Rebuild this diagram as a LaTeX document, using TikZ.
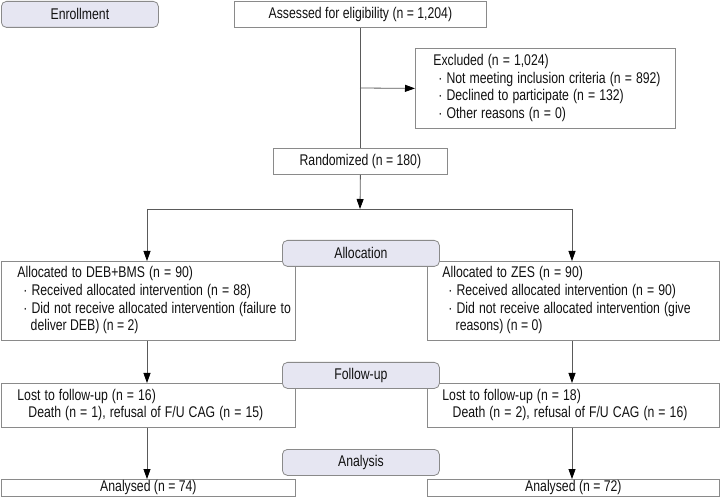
\documentclass[tikz,border=0pt]{standalone}
\usepackage{fontspec}
\usepackage{graphicx}
\setmainfont{Liberation Sans}
\usetikzlibrary{arrows.meta}
\definecolor{boxline}{HTML}{8A8A8A}
\definecolor{conn}{HTML}{5A5A5A}
\definecolor{labfill}{HTML}{E6E6F2}
\definecolor{txt}{HTML}{111111}
\tikzset{
  box/.style={draw=boxline, line width=0.8pt, fill=white, rectangle, anchor=north west, inner ysep=0pt, text=txt, font=\fontsize{15.5}{17.7}\selectfont},
  lbox/.style={box, align=left},
  cbox/.style={box, align=center, inner xsep=0pt},
  stage/.style={box, align=center, inner xsep=0pt, rounded corners=5pt, fill=labfill, minimum width=157pt, minimum height=26pt},
  conttext/.style={anchor=base west, inner sep=0pt, text=txt, font=\fontsize{15.5}{17.7}\selectfont},
  conline/.style={draw=conn, line width=0.8pt},
  arr/.style={conline, -{Triangle[length=10pt,width=7pt,fill=black,color=black]}}
}
\newcommand{\sq}[1]{\scalebox{0.79}[1]{#1}}
\newcommand{\ml}[1]{\sq{\begin{tabular}{@{}l@{}}#1\end{tabular}}}
\newcommand{\bul}{\hspace*{7.6pt}·~}
\begin{document}
\begin{tikzpicture}[x=1pt,y=-1pt]
\useasboundingbox (0,0) rectangle (721,497);
\node[stage] (enr) at (1,1) {\sq{Enrollment}};
\node[cbox, minimum width=252pt, minimum height=26pt] (ass) at (234,1) {\sq{Assessed for eligibility (n = 1,204)}};
\node[lbox, inner xsep=18pt, text width=224pt, minimum height=80pt] (exc) at (415,48) {\ml{Excluded (n = 1,024)\\
\hspace*{6.3pt}·~Not meeting inclusion criteria (n = 892)\\
\hspace*{6.3pt}·~Declined to participate (n = 132)\\
\hspace*{6.3pt}·~Other reasons (n = 0)}};
\node[cbox, minimum width=174pt, minimum height=26pt] (ran) at (273,148) {\sq{Randomized (n = 180)}};
\node[lbox, inner xsep=16pt, text width=262pt, minimum height=79pt] (la) at (1,261) {\ml{Allocated to DEB+BMS (n = 90)\\
\bul Received allocated intervention (n = 88)\\
\bul Did not receive allocated intervention (failure to\\
\mbox{}}};
\node[conttext] (lac) at (30.5,330.6) {\sq{deliver DEB) (n = 2)}};
\node[lbox, inner xsep=15pt, text width=262pt, minimum height=79pt] (ra) at (427,261) {\ml{Allocated to ZES (n = 90)\\
\bul Received allocated intervention (n = 90)\\
\bul Did not receive allocated intervention (give\\
\mbox{}}};
\node[conttext] (rac) at (455.5,330.6) {\sq{reasons) (n = 0)}};
\node[lbox, inner xsep=16pt, text width=262pt, minimum height=44pt] (ll) at (1,383) {\ml{Lost to follow-up (n = 16)\\
\hspace*{14pt}Death (n = 1), refusal of F/U CAG (n = 15)}};
\node[lbox, inner xsep=15pt, text width=262pt, minimum height=44pt] (rl) at (427,383) {\ml{Lost to follow-up (n = 18)\\
\hspace*{13pt}Death (n = 2), refusal of F/U CAG (n = 16)}};
\node[cbox, minimum width=294pt, minimum height=17pt] (lan) at (1,479) {\sq{Analysed (n = 74)}};
\node[cbox, minimum width=292pt, minimum height=17pt] (ran2) at (427,479) {\sq{Analysed (n = 72)}};
\coordinate (j0) at (360,88);
\coordinate (j1) at (360,209);
\coordinate (jl) at (147,209);
\coordinate (jr) at (572,209);
\draw[conline] (ass.south) -- (ran.north);
\draw[arr] (j0) -- (exc.west);
\draw[arr] (ran.south) -- (j1);
\draw[conline] (jl) -- (jr);
\draw[arr] (jl) -- (jl |- la.north);
\draw[arr] (jr) -- (jr |- ra.north);
\draw[arr] (jl |- la.south) -- (jl |- ll.north);
\draw[arr] (jr |- ra.south) -- (jr |- rl.north);
\draw[arr] (jl |- ll.south) -- (jl |- lan.north);
\draw[arr] (jr |- rl.south) -- (jr |- ran2.north);
\node[stage] (alc) at (282,240) {\sq{Allocation}};
\node[stage] (fol) at (282,362) {\sq{Follow-up}};
\node[stage] (ana) at (282,449) {\sq{Analysis}};
\end{tikzpicture}
\end{document}
